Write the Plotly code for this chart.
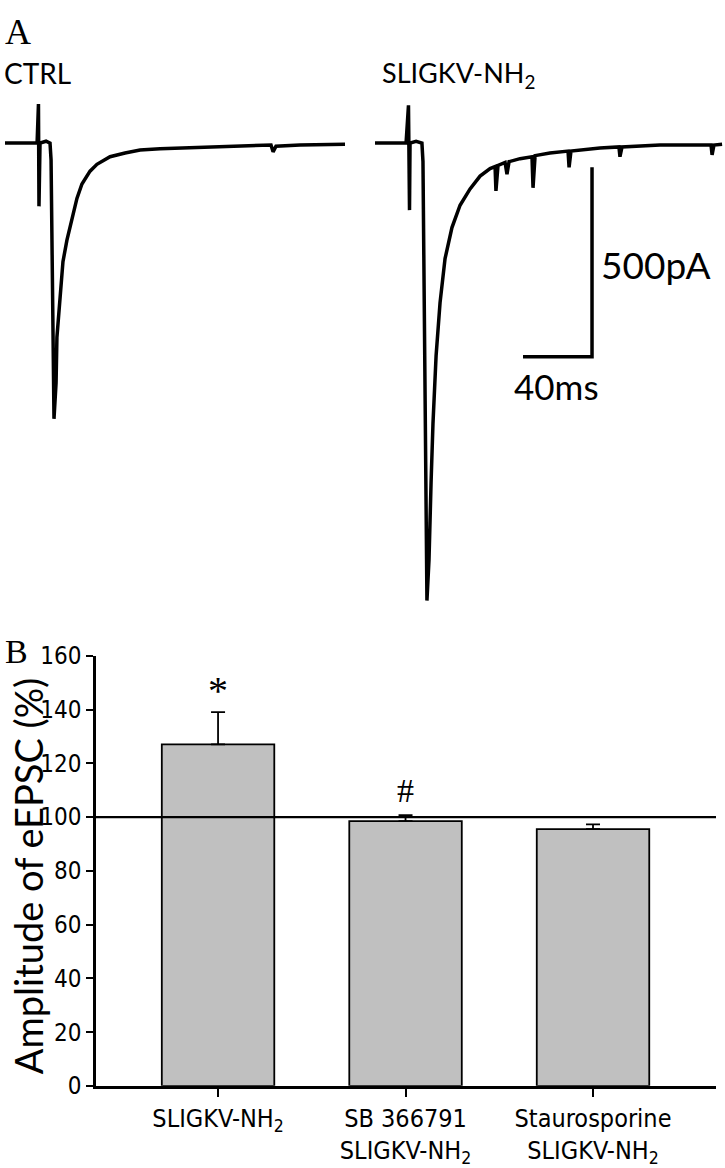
import plotly.graph_objects as go

W, H = 725, 1168

# ---------------- Panel A data (digitized traces) ----------------
# time in ms, current in pA (baseline = 0)
ctrl_t = [0, 8.7, 18.6, 19.4, 19.7, 20.3, 23.8, 26.1, 26.7, 28.4, 29.6, 30.1, 31.9, 33.6,
          35.9, 38.8, 41.7, 44.6, 49.3, 53.3, 60.9, 69.6, 78.3, 89.9, 101.4, 118.8, 136.2,
          154.2, 155.4, 157.1, 171.0, 188.4, 197.1]
ctrl_i = [0, 1, 0, 103, -167, 0, 5, 0, -44, -728, -633, -513, -403, -313,
          -256, -197, -146, -108, -74, -56, -36, -26, -18, -15, -13, -10, -8,
          -5, -23, -8, -5, -4, -3]

slig_t = [0, 18.0, 19.4, 20.0, 20.3, 23.8, 27.2, 27.8, 30.1, 31.3, 32.5, 33.6, 35.4, 37.7,
          40.6, 44.6, 49.3, 55.1, 60.9, 66.7, 69.6, 70.1, 71.3, 75.4, 76.5, 77.7, 84.1,
          91.0, 91.6, 92.8, 101.4, 111.9, 112.5, 113.6, 130.4, 141.4, 142.0, 143.2,
          165.2, 194.8, 195.4, 196.5, 201.2]
slig_i = [0, 0, 100, -177, 0, 5, 0, -49, -1208, -1100, -895, -741, -562, -421,
          -305, -223, -164, -121, -87, -67, -62, -126, -59, -51, -82, -49, -41,
          -36, -118, -33, -26, -21, -64, -21, -13, -10, -36, -10,
          -5, -5, -31, -5, -3]
slig_offset_ms = 214.5

scale_ms = 40
scale_pa = 500
scale_corner = (340.3, -564)

# ---------------- Panel B data ----------------
categories = ["SLIGKV-NH<sub>2</sub>",
              "SB 366791<br>SLIGKV-NH<sub>2</sub>",
              "Staurosporine<br>SLIGKV-NH<sub>2</sub>"]
amplitude = [127.0, 98.5, 95.5]
sem = [12.0, 2.2, 1.8]
marks = ["*", "#", ""]
mark_y = [147, 110, 0]
y_ticks = [0, 20, 40, 60, 80, 100, 120, 140, 160]

GOTHIC = "Lato, 'Open Sans', sans-serif"
NARROW = "'Liberation Sans Narrow', 'Arial Narrow', 'DejaVu Sans Condensed', sans-serif"
SERIF = "'Liberation Serif', 'Times New Roman', serif"

def px(x):
    return x / W

def py(y):
    return 1 - y / H

fig = go.Figure()

fig.add_trace(go.Scatter(x=ctrl_t, y=ctrl_i, mode="lines",
                         line=dict(color="black", width=3.5),
                         xaxis="x", yaxis="y", showlegend=False, hoverinfo="skip"))
fig.add_trace(go.Scatter(x=[t + slig_offset_ms for t in slig_t], y=slig_i, mode="lines",
                         line=dict(color="black", width=3.5),
                         xaxis="x", yaxis="y", showlegend=False, hoverinfo="skip"))
cx, cy = scale_corner
fig.add_trace(go.Scatter(x=[cx, cx, cx - scale_ms], y=[cy + scale_pa, cy, cy], mode="lines",
                         line=dict(color="black", width=3.5),
                         xaxis="x", yaxis="y", showlegend=False, hoverinfo="skip"))

fig.add_trace(go.Bar(x=[0, 1, 2], y=amplitude, width=0.6,
                     marker=dict(color="#c0c0c0", line=dict(color="black", width=1.8)),
                     error_y=dict(type="data", symmetric=False, array=sem,
                                  arrayminus=[0, 0, 0], color="black", thickness=1.8, width=7),
                     xaxis="x2", yaxis="y2", showlegend=False, hoverinfo="skip"))

# Panel B annotations (* and #)
for i, (m, yv) in enumerate(zip(marks, mark_y)):
    if m:
        fig.add_annotation(x=i, y=yv, xref="x2", yref="y2", text=m, showarrow=False,
                           font=dict(family=SERIF, size=40 if m == "*" else 34, color="black"))

fig.add_shape(type="line", xref="x2 domain", yref="y2", x0=0, x1=1, y0=100, y1=100,
              line=dict(color="black", width=2.2))

# Panel A text
fig.add_annotation(x=px(3), y=py(19), xref="paper", yref="paper", text="A", showarrow=False,
                   xanchor="left", yanchor="middle",
                   font=dict(family=SERIF, size=36, color="black"))
fig.add_annotation(x=px(2), y=py(61), xref="paper", yref="paper", text="CTRL", showarrow=False,
                   xanchor="left", yanchor="middle",
                   font=dict(family=GOTHIC, size=28, color="black"))
fig.add_annotation(x=px(380), y=py(62), xref="paper", yref="paper",
                   text="SLIGKV-NH<sub>2</sub>", showarrow=False,
                   xanchor="left", yanchor="middle",
                   font=dict(family=GOTHIC, size=27, color="black"))
fig.add_annotation(x=px(599), y=py(258), xref="paper", yref="paper", text="500pA",
                   showarrow=False, xanchor="left", yanchor="middle",
                   font=dict(family=GOTHIC, size=37, color="black"))
fig.add_annotation(x=px(556), y=py(383), xref="paper", yref="paper", text="40ms",
                   showarrow=False, xanchor="center", yanchor="middle",
                   font=dict(family=GOTHIC, size=35, color="black"))
fig.add_annotation(x=px(3), y=py(657), xref="paper", yref="paper", text="B", showarrow=False,
                   xanchor="left", yanchor="middle",
                   font=dict(family=SERIF, size=34, color="black"))
fig.add_annotation(x=px(28), y=py(888), xref="paper", yref="paper",
                   text="Amplitude of eEPSC (%)", showarrow=False, textangle=-90,
                   xanchor="center", yanchor="middle",
                   font=dict(family=GOTHIC, size=38, color="black"))

fig.update_layout(
    width=W, height=H, autosize=False,
    margin=dict(l=0, r=0, t=0, b=0),
    paper_bgcolor="white", plot_bgcolor="white",
    xaxis=dict(domain=[0, 1], range=[-5 / 1.725, 720 / 1.725], visible=False,
               anchor="y", fixedrange=True),
    yaxis=dict(domain=[1 - 620 / H, 1], range=[-1248.7, 341.0], visible=False,
               anchor="x", fixedrange=True),
    xaxis2=dict(domain=[96 / W, 716 / W], range=[-0.651, 2.656], anchor="y2",
                tickvals=[0, 1, 2], ticktext=categories,
                showline=True, linecolor="black", linewidth=2.5,
                ticks="outside", ticklen=8, tickwidth=2, tickcolor="black",
                showgrid=False, zeroline=False,
                tickfont=dict(family=NARROW, size=25, color="black")),
    yaxis2=dict(domain=[1 - 1104 / H, 1 - 661 / H], range=[0, 160], anchor="x2",
                tickvals=y_ticks,
                showline=True, linecolor="black", linewidth=2.5,
                ticks="outside", ticklen=7, tickwidth=2, tickcolor="black",
                showgrid=False, zeroline=False,
                tickfont=dict(family=NARROW, size=24, color="black")),
    bargap=0.4,
)

fig.write_html("out.html",
               config={"displayModeBar": False},
               post_script="document.body.style.margin='0';"
                           "document.documentElement.style.overflow='hidden';")
